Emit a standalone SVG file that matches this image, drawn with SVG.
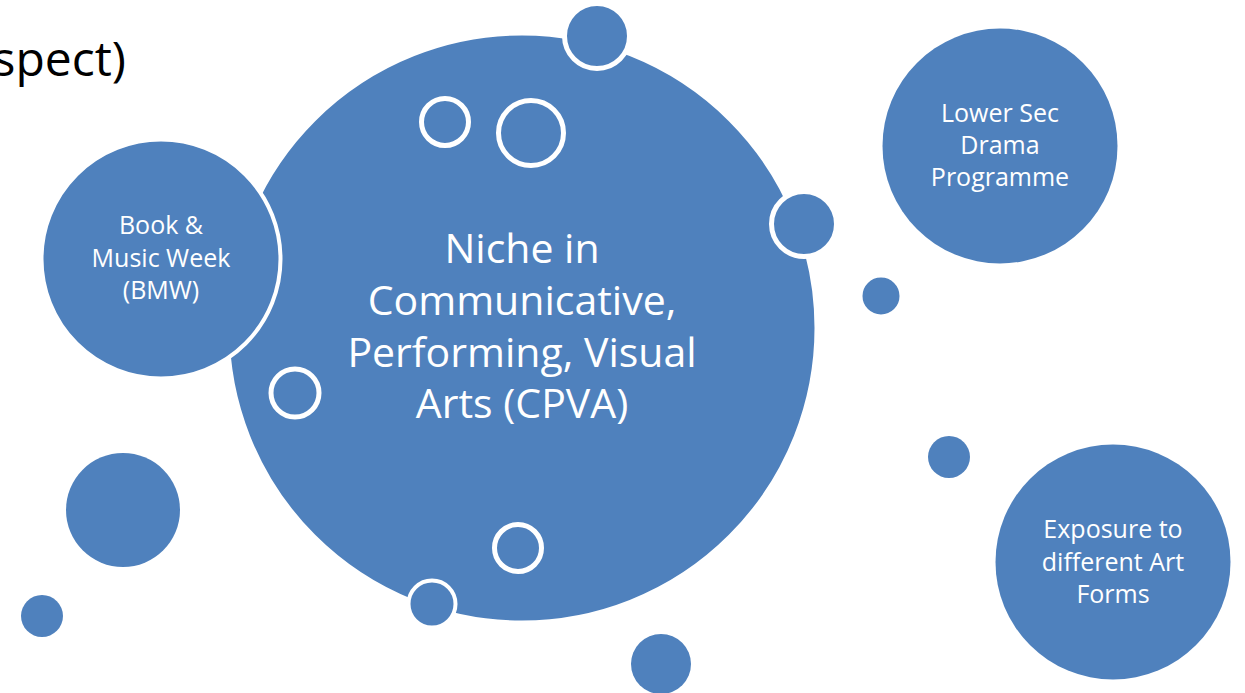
<svg xmlns="http://www.w3.org/2000/svg" width="1245" height="693" viewBox="0 0 1245 693">
<style>
.b{fill:#4F81BD;stroke:#FFFFFF;stroke-width:5}
.h{fill:none;stroke:#FFFFFF;stroke-width:5}
.t{font-family:"Open Sans","Liberation Sans",sans-serif;fill:#FFFFFF;text-anchor:middle}
.s{font-size:25px}
.m{font-size:41px}
</style>
<rect width="1245" height="693" fill="#FFFFFF"/>
<text x="126" y="76" font-family="Open Sans, Liberation Sans, sans-serif" font-size="48" fill="#000000" text-anchor="end">spect)</text>
<g id="connectors"></g>
<g id="center">
<circle class="b" cx="522" cy="328" r="295"/>
<text class="t m" x="522" y="263">Niche in</text>
<text class="t m" x="522" y="315">Communicative,</text>
<text class="t m" x="522" y="367">Performing, Visual</text>
<text class="t m" x="522" y="418">Arts (CPVA)</text>
</g>
<g id="bubbles">
<circle class="b" cx="597" cy="36" r="32.5"/>
<circle class="h" cx="445" cy="122" r="23.5"/>
<circle class="h" cx="531" cy="133" r="32.5"/>
<circle class="b" cx="804" cy="224" r="32.5"/>
<circle class="b" cx="881" cy="296" r="21"/>
<circle class="h" cx="295" cy="393" r="24"/>
<circle class="h" cx="518" cy="548" r="23.5"/>
<circle class="b" cx="432" cy="604" r="23.5" style="stroke-width:4"/>
<circle class="b" cx="661" cy="664" r="30" style="stroke:none"/>
<circle class="b" cx="949" cy="457" r="21" style="stroke:none"/>
<circle class="b" cx="123" cy="510" r="57" style="stroke:none"/>
<circle class="b" cx="42" cy="616" r="21" style="stroke:none"/>
</g>
<g id="bmw">
<circle class="b" cx="161" cy="259" r="119.5" style="stroke-width:4"/>
<text class="t s" x="161" y="234">Book &amp;</text>
<text class="t s" x="161" y="267">Music Week</text>
<text class="t s" x="161" y="299">(BMW)</text>
</g>
<g id="drama">
<circle class="b" cx="1000" cy="146" r="117.5" style="stroke:none"/>
<text class="t s" x="1000" y="122">Lower Sec</text>
<text class="t s" x="1000" y="154">Drama</text>
<text class="t s" x="1000" y="186">Programme</text>
</g>
<g id="exposure">
<circle class="b" cx="1113" cy="562" r="117.5" style="stroke:none"/>
<text class="t s" x="1113" y="538">Exposure to</text>
<text class="t s" x="1113" y="571">different Art</text>
<text class="t s" x="1113" y="603">Forms</text>
</g>
</svg>
